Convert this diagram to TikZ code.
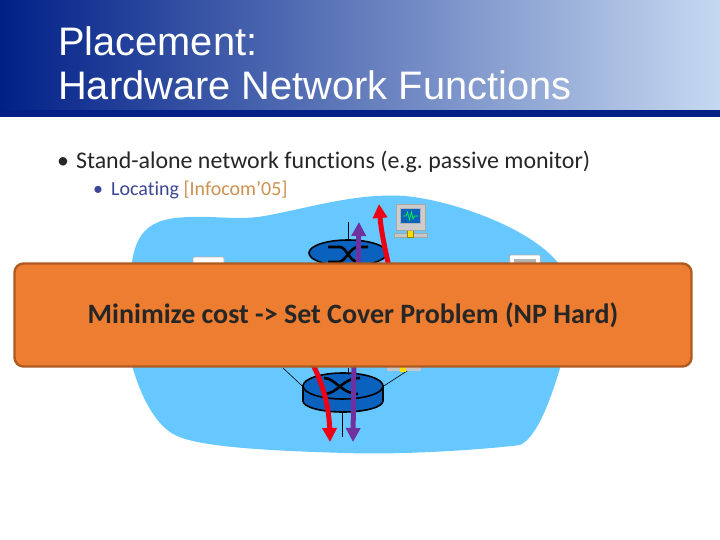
\documentclass[tikz,border=0pt]{standalone}
\usepackage{fontspec}
\setmainfont[Ligatures=CommonOff]{Carlito}
\newfontfamily\titlefont{Liberation Sans}
\usetikzlibrary{shapes.geometric,arrows.meta}
\definecolor{navy}{RGB}{0,32,135}
\definecolor{gradmid}{RGB}{135,158,212}
\definecolor{gradend}{RGB}{198,217,241}
\definecolor{cloudblue}{RGB}{102,200,255}
\definecolor{routerblue}{RGB}{10,98,190}
\definecolor{boxorange}{RGB}{237,125,49}
\definecolor{boxedge}{RGB}{174,90,33}
\definecolor{redarrow}{RGB}{238,0,20}
\definecolor{purplearrow}{RGB}{112,48,160}
\definecolor{subblue}{RGB}{60,70,150}
\definecolor{subtan}{RGB}{205,145,80}
\tikzset{
 titletext/.style={anchor=west,inner sep=0,text=white,font=\titlefont\fontsize{39.8}{39.8}\selectfont},
 linkline/.style={draw=black,line width=0.6pt},
 flowred/.style={draw=redarrow,line width=5pt,-{Triangle[length=14pt,width=14pt]}},
 flowpurple/.style={draw=purplearrow,line width=5pt,-{Triangle[length=14pt,width=14pt]}},
 routertop/.style={ellipse,draw=black,line width=1.6pt,fill=routerblue,minimum width=#1,minimum height=26pt,inner sep=0},
 xline/.style={draw=black,line width=2.6pt},
 pcbody/.style={fill=white,draw=gray!60,line width=0.8pt,rounded corners=1pt},
}
\begin{document}
\begin{tikzpicture}[x=1pt,y=-1pt]
\useasboundingbox (0,0) rectangle (720,540);
\fill[white] (0,0) rectangle (720,540);
% header
\shade[left color=navy,middle color=gradmid,right color=gradend] (0,0) rectangle (720,110);
\fill[navy] (0,110) rectangle (720,117);
\node[titletext] (t1) at (58,41) {Placement:};
\node[titletext] (t2) at (58,85) {Hardware Network Functions};
% bullets
\node[anchor=west,inner sep=0,text=black!85,font=\fontsize{23.9}{23.9}\selectfont] (b1) at (57,161.5) {\frenchspacing •\hspace{7pt}Stand-alone network functions (e.g. passive monitor)};
\node[anchor=west,inner sep=0,font=\fontsize{20}{20}\selectfont] (b2) at (93,190) {\textcolor{subblue}{•\hspace{8pt}Locating }\textcolor{subtan}{[Infocom’05]}};
% cloud
\fill[cloudblue] (131,270) .. controls (134,240) and (143,222) .. (175,218)
 .. controls (215,214) and (235,222) .. (270,215)
 .. controls (320,205) and (360,193) .. (405,196)
 .. controls (450,200) and (535,228) .. (562,268)
 -- (561,365)
 .. controls (552,395) and (538,437) .. (520,445)
 .. controls (480,450) and (400,455) .. (345,453)
 .. controls (280,451) and (200,448) .. (175,435)
 .. controls (155,425) and (140,395) .. (131,362) -- cycle;
% upper router
\coordinate (upIn) at (348,222);
\node[routertop=78pt] (rt) at (348,253) {};
\draw[linkline] (upIn) -- (rt.north);
\draw[xline] (328,247) -- (340,247) .. controls (346,247) and (350,262) .. (358,262);
\draw[xline] (328,262) -- (338,262) .. controls (346,262) and (350,247) .. (358,247) -- (368,247);
% lower router
\coordinate (lowIn) at (342,437);
\coordinate (lowA) at (283,368);
\coordinate (lowB) at (410,369);
\coordinate (lowC) at (348,368);
\fill[routerblue,draw=black,line width=1.6pt] (303,386) -- (303,401) arc[start angle=180,end angle=360,x radius=40,y radius=-11] -- (383,386) -- cycle;
\node[routertop=80pt] (rb) at (343,386) {};
\draw[linkline] (lowA) -- (rb.west);
\draw[linkline] (lowB) -- (rb.east);
\draw[linkline] (lowC) -- (348,375);
\draw[linkline] (342,412) -- (lowIn);
\draw[xline] (324,378) .. controls (335,378) and (342,394) .. (358,394);
\draw[xline] (324,394) .. controls (338,394) and (342,378) .. (360,378);
% monitor
\node[fill=gray!45,draw=gray!70,line width=0.5pt,minimum width=33pt,minimum height=4pt,inner sep=0] (mbase) at (411,235) {};
\node[fill=yellow!80!orange,draw=olive,line width=0.4pt,minimum width=6pt,minimum height=7pt,inner sep=0] (mplug) at (410,234) {};
\node[fill=gray!40,draw=gray!70,line width=0.8pt,minimum width=29pt,minimum height=26pt,inner sep=0] (mon) at (410.5,217) {};
\node[fill=routerblue,draw=gray!60,line width=0.5pt,minimum width=20pt,minimum height=15pt,inner sep=0] (screen) at (410.5,216) {};
\draw[green!80!cyan,line width=0.7pt] (403,216) -- (406,216) -- (407.5,212) -- (409.5,220) -- (411.5,212) -- (413,219) -- (414.5,216) -- (418,216);
% peeking computers
\node[pcbody,minimum width=31pt,minimum height=10pt,inner sep=0] (pcL) at (208.5,262) {};
\node[pcbody,minimum width=31pt,minimum height=12pt,inner sep=0] (pcR) at (525,261) {};
\fill[gray!60] (514,259) rectangle (536,264);
\node[fill=gray!45,minimum width=34pt,minimum height=6pt,inner sep=0] (pcB) at (404,368) {};
\node[fill=yellow!80!orange,minimum width=6pt,minimum height=6pt,inner sep=0] (pcBplug) at (403,369) {};
% arrows
\coordinate (purpleUpFrom) at (358,275);
\coordinate (purpleUpTo) at (359,222);
\coordinate (redUpFrom) at (391,275);
\coordinate (redUpTo) at (379,204);
\coordinate (purpleDownFrom) at (354,355);
\coordinate (purpleDownTo) at (353,442);
\coordinate (redDownFrom) at (308,355);
\coordinate (redDownTo) at (330,442);
\draw[flowpurple] (purpleUpFrom) -- (purpleUpTo);
\draw[flowred] (redUpFrom) .. controls (385,250) and (381,230) .. (redUpTo);
\draw[flowpurple] (purpleDownFrom) -- (purpleDownTo);
\draw[flowred] (redDownFrom) .. controls (322,380) and (329,405) .. (redDownTo);
% banner
\node[rounded corners=9pt,fill=boxorange,draw=boxedge,line width=2.4pt,minimum width=677pt,minimum height=103pt,inner sep=0,font=\fontsize{28}{28}\bfseries\selectfont,text=black!85] (banner) at (353,315) {\raisebox{-1pt}{Minimize cost -> Set Cover Problem (NP Hard)}};
\end{tikzpicture}
\end{document}
